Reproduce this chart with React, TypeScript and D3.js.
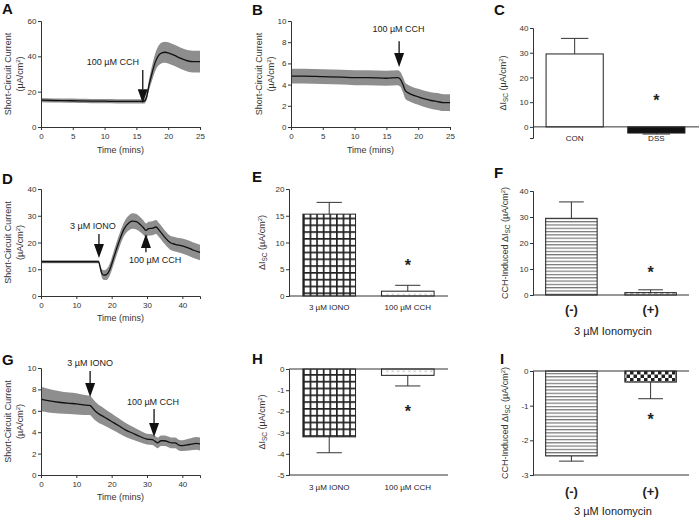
import React, { useEffect, useRef } from "react"
import * as d3 from "d3"

const FONT = "'Liberation Sans', Arial, Helvetica, sans-serif"
const INK = "#333"

// A - CCH added at 16 min
const aTime = [0, 2, 4, 6, 8, 10, 12, 14, 15.5, 16.2, 16.6, 17, 17.5, 18, 18.5, 19, 19.5, 20, 21, 22, 23, 24, 25]
const aMean = [15.2, 15.0, 14.9, 14.8, 14.7, 14.6, 14.5, 14.5, 14.5, 14.6, 17, 24, 31, 37, 40.5, 42, 42.3, 42, 40.5, 38.8, 37.5, 37, 37]
const aSem = [1.2, 1.2, 1.2, 1.2, 1.2, 1.2, 1.2, 1.2, 1.2, 1.3, 1.8, 3, 4.2, 5, 5.6, 5.9, 6, 6, 6, 6, 6.1, 6.2, 6.2]

// B - DSS tissue, CCH at 17 min
const bTime = [0, 2, 5, 8, 10, 12, 15, 16.8, 17.2, 17.6, 18, 18.5, 19, 20, 21, 22, 23, 24, 25]
const bMean = [4.8, 4.8, 4.75, 4.7, 4.65, 4.65, 4.6, 4.65, 4.5, 4.0, 3.4, 3.2, 3.05, 2.85, 2.65, 2.5, 2.4, 2.3, 2.3]
const bSem = [0.7, 0.7, 0.7, 0.7, 0.7, 0.7, 0.7, 0.7, 0.7, 0.72, 0.75, 0.75, 0.75, 0.75, 0.77, 0.78, 0.8, 0.8, 0.8]

// D - IONO then CCH, control
const dTime = [0, 5, 10, 16.3, 16.7, 17.2, 17.8, 18.5, 19.5, 20.5, 22, 23.5, 25, 26, 27, 28, 29, 29.7, 30.5, 31.5, 32.5, 33.5, 35, 36.5, 38, 40, 42, 43, 45]
const dMean = [12.8, 12.8, 12.8, 12.8, 11, 8.5, 7.8, 8, 10, 14, 20, 25, 27.5, 28, 27.8, 26.8, 25.5, 24.5, 25.2, 25.3, 25.8, 24.5, 22, 20, 19.3, 18.7, 17.8, 17.2, 16.3]
const dSem = [0.6, 0.6, 0.6, 0.6, 1, 1.5, 1.8, 2, 2.2, 2.4, 2.5, 2.6, 2.8, 2.9, 2.9, 2.8, 2.7, 2.6, 2.6, 2.6, 2.6, 2.6, 2.6, 2.6, 2.7, 2.8, 2.9, 2.9, 2.9]

// G - IONO then CCH, DSS
const gTime = [0, 2, 5, 8, 10, 12, 13.8, 14.5, 15, 16, 18, 20, 22, 24, 26, 28, 30, 31.5, 32.5, 33, 34, 35, 36, 37, 38, 39, 40, 42, 44, 45]
const gMean = [7.1, 6.95, 6.8, 6.7, 6.65, 6.55, 6.5, 6.3, 6.1, 5.8, 5.4, 5.0, 4.6, 4.2, 3.9, 3.6, 3.35, 3.3, 3.1, 3.0, 3.2, 3.2, 3.1, 3.0, 3.0, 2.8, 2.75, 2.85, 2.95, 2.9]
const gSem = [1.15, 1.1, 1.05, 1.0, 1.0, 0.95, 0.9, 0.9, 0.88, 0.85, 0.8, 0.75, 0.7, 0.65, 0.6, 0.55, 0.5, 0.5, 0.5, 0.5, 0.5, 0.5, 0.5, 0.5, 0.5, 0.5, 0.5, 0.55, 0.6, 0.6]

// bar panels
const cCats = ["CON", "DSS"]
const cVals = [29.5, -2.5]
const cErrs = [6.3, 0.4]

const eCats = ["3 µM IONO", "100 µM CCH"]
const eVals = [15.3, 0.9]
const eErrs = [2.2, 1.1]

const fCats = ["(-)", "(+)"]
const fVals = [29.5, 0.9]
const fErrs = [6.3, 1.1]

const hCats = ["3 µM IONO", "100 µM CCH"]
const hVals = [-3.2, -0.3]
const hErrs = [0.75, 0.5]

const iCats = ["(-)", "(+)"]
const iVals = [-2.45, -0.32]
const iErrs = [0.15, 0.48]

const Axis = ({ scale, orient, transform, ticks }) => {
    const ref = useRef(null)
    useEffect(() => {
        const axis = orient === "left" ? d3.axisLeft(scale) : d3.axisBottom(scale)
        axis.tickValues(ticks).tickFormat(d => String(d))
            .tickSizeOuter(0).tickSize(3).tickPadding(orient === "left" ? 1.5 : 3)
        const g = d3.select(ref.current)
        g.call(axis)
        g.attr("font-size", 8).attr("font-family", FONT)
        g.selectAll("text").attr("fill", INK)
        g.selectAll("line,path").attr("stroke", INK)
    }, [])
    return <g ref={ref} transform={transform} />
}

const Letter = ({ x, y, c }) => (
    <text x={x} y={y} fontFamily={FONT} fontWeight="bold" fontSize={15} fill="#111">{c}</text>
)

const Unit = () => (
    <>
        (µA/cm<tspan dy={-3} fontSize={6}>2</tspan><tspan dy={3}>)</tspan>
    </>
)

const Isc = ({ prefix }) => (
    <>
        {prefix}ΔI<tspan dy={2} fontSize={6.5}>SC</tspan><tspan dy={-2}> (µA/cm</tspan><tspan dy={-3} fontSize={6}>2</tspan><tspan dy={3}>)</tspan>
    </>
)

const Trace = ({ time, mean, sem, xDomain, yDomain, xTicks, yTicks, box, arrows, titleX, timeY }) => {
    const x = d3.scaleLinear().domain(xDomain).range([box.l, box.r])
    const y = d3.scaleLinear().domain(yDomain).range([box.b, box.t])
    const idx = d3.range(time.length)
    const band = d3.area()
        .x(i => x(time[i]))
        .y0(i => y(mean[i] - sem[i]))
        .y1(i => y(mean[i] + sem[i]))
        .curve(d3.curveMonotoneX)
    const line = d3.line()
        .x(i => x(time[i]))
        .y(i => y(mean[i]))
        .curve(d3.curveMonotoneX)
    const cy = (box.t + box.b) / 2
    return (
        <g fontFamily={FONT}>
            <path d={band(idx)} fill="#8e8e8e" />
            <path d={line(idx)} fill="none" stroke="#111" strokeWidth={1.3} />
            <Axis scale={y} orient="left" transform={`translate(${box.l},0)`} ticks={yTicks} />
            <Axis scale={x} orient="bottom" transform={`translate(0,${box.b})`} ticks={xTicks} />
            {arrows.map((a, k) => {
                const ax = x(a.t), y0 = y(a.tail), y1 = y(a.tip)
                const dir = Math.sign(y1 - y0)
                const base = y1 - dir * 14
                return (
                    <g key={k}>
                        <line x1={ax} x2={ax} y1={y0} y2={base} stroke="#111" strokeWidth={1.3} />
                        <path d={`M${ax - 5},${base}L${ax + 5},${base}L${ax},${y1}Z`} fill="#111" />
                        <text x={x(a.lt)} y={y(a.ly)} textAnchor="middle" fontSize={9} fill="#222">{a.label}</text>
                    </g>
                )
            })}
            <text transform={`translate(${titleX[0]},${cy}) rotate(-90)`} textAnchor="middle" fontSize={9} fill={INK}>Short-Circuit Current</text>
            <text transform={`translate(${titleX[1]},${cy}) rotate(-90)`} textAnchor="middle" fontSize={9} fill={INK}><Unit /></text>
            <text x={(box.l + box.r) / 2} y={timeY} textAnchor="middle" fontSize={9} fill={INK}>Time (mins)</text>
        </g>
    )
}

const Bars = ({ cats, vals, errs, fills, yDomain, yTicks, box, pi, po, star, lines, title, titleX, catY, catSize, catBold, group, groupY }) => {
    const x = d3.scaleBand().domain(cats).range([box.l, box.r]).paddingInner(pi).paddingOuter(po)
    const y = d3.scaleLinear().domain(yDomain).range([box.b, box.t])
    const bw = x.bandwidth()
    const cy = (box.t + box.b) / 2
    return (
        <g fontFamily={FONT}>
            {cats.map((c, i) => {
                const v = vals[i]
                const e = v >= 0 ? v + errs[i] : v - errs[i]
                const cx = x(c) + bw / 2
                return (
                    <g key={c}>
                        <line x1={cx} x2={cx} y1={y(v)} y2={y(e)} stroke={INK} strokeWidth={1} />
                        <line x1={cx - bw * 0.24} x2={cx + bw * 0.24} y1={y(e)} y2={y(e)} stroke={INK} strokeWidth={1} />
                        <rect x={x(c)} y={Math.min(y(0), y(v))} width={bw} height={Math.abs(y(v) - y(0))}
                            fill={fills[i]} stroke="#222" strokeWidth={1} />
                        <text x={cx} y={catY} textAnchor="middle" fontSize={catSize}
                            fontWeight={catBold ? "bold" : "normal"} fill="#222">{c}</text>
                    </g>
                )
            })}
            <text x={x(cats[1]) + bw / 2} y={y(star) + 9} textAnchor="middle" fontSize={16} fontWeight="bold" fill="#222">*</text>
            <Axis scale={y} orient="left" transform={`translate(${box.l},0)`} ticks={yTicks} />
            {lines.map(v => (
                <line key={v} x1={box.l} x2={box.end} y1={y(v)} y2={y(v)} stroke={INK} strokeWidth={1} />
            ))}
            <text transform={`translate(${titleX},${cy}) rotate(-90)`} textAnchor="middle" fontSize={9} fill={INK}>{title}</text>
            {group && <text x={(box.l + box.r) / 2 + 2} y={groupY} textAnchor="middle" fontSize={11} fill="#222">{group}</text>}
        </g>
    )
}

export default function App() {
    return (
        <svg width={699} height={517} style={{ position: "absolute", left: 0, top: 0, background: "#fff" }}>
            <defs>
                <pattern id="grid" patternUnits="userSpaceOnUse" width={6.6} height={6.8} x={303} y={0}>
                    <rect width={6.6} height={6.8} fill="#fff" />
                    <rect width={1.7} height={6.8} fill="#222" />
                    <rect width={6.6} height={1.7} fill="#222" />
                </pattern>
                <pattern id="dots" patternUnits="userSpaceOnUse" width={5.5} height={4.5}>
                    <rect width={5.5} height={4.5} fill="#fff" />
                    <path d="M1.5,1.5L3,3M3,1.5L1.5,3" stroke="#999" strokeWidth={0.8} />
                </pattern>
                <pattern id="hlines" patternUnits="userSpaceOnUse" width={6} height={3.3}>
                    <rect width={6} height={3.3} fill="#fff" />
                    <rect width={6} height={1.2} fill="#777" />
                </pattern>
                <pattern id="dashes" patternUnits="userSpaceOnUse" width={6} height={3}>
                    <rect width={6} height={3} fill="#fff" />
                    <rect width={3.5} height={1.5} y={0.8} fill="#222" />
                </pattern>
                <pattern id="checker" patternUnits="userSpaceOnUse" width={7} height={7}>
                    <rect width={7} height={7} fill="#fff" />
                    <rect width={3.5} height={3.5} fill="#222" />
                    <rect x={3.5} y={3.5} width={3.5} height={3.5} fill="#222" />
                </pattern>
            </defs>

            <Letter x={2} y={14} c="A" />
            <Trace time={aTime} mean={aMean} sem={aSem} xDomain={[0, 25]} yDomain={[0, 60]}
                xTicks={[0, 5, 10, 15, 20, 25]} yTicks={[0, 20, 40, 60]}
                box={{ l: 41, r: 200, t: 21, b: 127 }} titleX={[11, 23]} timeY={153}
                arrows={[{ t: 16, tail: 32.3, tip: 13.5, label: "100 µM CCH", lt: 11.3, ly: 35 }]} />

            <Letter x={252} y={15} c="B" />
            <Trace time={bTime} mean={bMean} sem={bSem} xDomain={[0, 25]} yDomain={[0, 10]}
                xTicks={[0, 5, 10, 15, 20, 25]} yTicks={[0, 2, 4, 6, 8, 10]}
                box={{ l: 291, r: 450, t: 21, b: 127 }} titleX={[262, 274]} timeY={153}
                arrows={[{ t: 17, tail: 8.1, tip: 5.66, label: "100 µM CCH", lt: 16.9, ly: 8.96 }]} />

            <Letter x={494} y={15} c="C" />
            <Bars cats={cCats} vals={cVals} errs={cErrs} fills={["#fff", "#111"]}
                yDomain={[-4.5, 40]} yTicks={[0, 10, 20, 30, 40]}
                box={{ l: 533, r: 698, t: 28, b: 138, end: 699 }} pi={0.3} po={0.16}
                star={12} lines={[0]} title={<Isc prefix="" />} titleX={506}
                catY={141} catSize={8} catBold={false} />

            <Letter x={2} y={184} c="D" />
            <Trace time={dTime} mean={dMean} sem={dSem} xDomain={[0, 45]} yDomain={[0, 40]}
                xTicks={[0, 10, 20, 30, 40]} yTicks={[0, 10, 20, 30, 40]}
                box={{ l: 41, r: 200, t: 189, b: 296 }} titleX={[11, 23]} timeY={321}
                arrows={[
                    { t: 16.4, tail: 23.2, tip: 14.2, label: "3 µM IONO", lt: 14.7, ly: 25 },
                    { t: 29.7, tail: 16.4, tip: 23.2, label: "100 µM CCH", lt: 32.3, ly: 12.2 },
                ]} />

            <Letter x={252} y={182} c="E" />
            <Bars cats={eCats} vals={eVals} errs={eErrs} fills={["url(#grid)", "url(#dots)"]}
                yDomain={[0, 20]} yTicks={[0, 5, 10, 15, 20]}
                box={{ l: 289, r: 448, t: 189, b: 296, end: 448 }} pi={0.33} po={0.177}
                star={6.4} lines={[0]} title={<Isc prefix="" />} titleX={265}
                catY={310} catSize={8} catBold={false} />

            <Letter x={494} y={178} c="F" />
            <Bars cats={fCats} vals={fVals} errs={fErrs} fills={["url(#hlines)", "url(#dashes)"]}
                yDomain={[0, 40]} yTicks={[0, 10, 20, 30, 40]}
                box={{ l: 533, r: 689, t: 191, b: 295, end: 689 }} pi={0.35} po={0.16}
                star={10} lines={[0]} title={<Isc prefix="CCH-Induced " />} titleX={508}
                catY={314} catSize={13} catBold={true} group="3 µM Ionomycin" groupY={335} />

            <Letter x={2} y={365} c="G" />
            <Trace time={gTime} mean={gMean} sem={gSem} xDomain={[0, 45]} yDomain={[0, 10]}
                xTicks={[0, 10, 20, 30, 40]} yTicks={[0, 2, 4, 6, 8, 10]}
                box={{ l: 41, r: 200, t: 368, b: 475 }} titleX={[11, 23]} timeY={500}
                arrows={[
                    { t: 13.9, tail: 9.72, tip: 7.29, label: "3 µM IONO", lt: 13.9, ly: 10.19 },
                    { t: 32, tail: 6.17, tip: 3.55, label: "100 µM CCH", lt: 31.7, ly: 6.54 },
                ]} />

            <Letter x={252} y={364} c="H" />
            <Bars cats={hCats} vals={hVals} errs={hErrs} fills={["url(#grid)", "url(#dots)"]}
                yDomain={[-5, 0]} yTicks={[-5, -4, -3, -2, -1, 0]}
                box={{ l: 289, r: 448, t: 369, b: 475, end: 448 }} pi={0.33} po={0.177}
                star={-1.84} lines={[0, -5]} title={<Isc prefix="" />} titleX={265}
                catY={490} catSize={8} catBold={false} />

            <Letter x={500} y={364} c="I" />
            <Bars cats={iCats} vals={iVals} errs={iErrs} fills={["url(#hlines)", "url(#checker)"]}
                yDomain={[-3, 0]} yTicks={[-3, -2, -1, 0]}
                box={{ l: 533, r: 689, t: 371, b: 475, end: 689 }} pi={0.35} po={0.16}
                star={-1.3} lines={[0, -3]} title={<Isc prefix="CCH-Induced " />} titleX={508}
                catY={496} catSize={13} catBold={true} group="3 µM Ionomycin" groupY={515} />
        </svg>
    )
}
